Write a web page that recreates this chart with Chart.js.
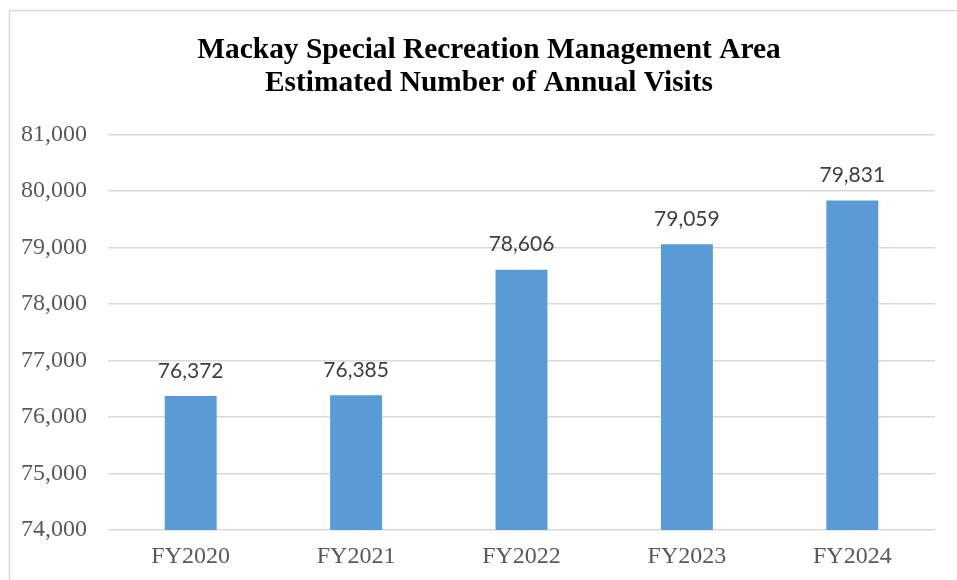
<!DOCTYPE html>
<html>
<head>
<meta charset="utf-8">
<script src="https://cdn.jsdelivr.net/npm/chart.js@4/dist/chart.umd.min.js"></script>
<style>
  html, body { margin: 0; padding: 0; background: #ffffff; }
  #wrap { width: 957px; height: 580px; position: relative; }
</style>
</head>
<body>
<div id="wrap"><canvas id="c" width="957" height="580"></canvas></div>
<script>
const titleLines = ["Mackay Special Recreation Management Area", "Estimated Number of Annual Visits"];
const categories = ["FY2020", "FY2021", "FY2022", "FY2023", "FY2024"];
const visits = [76372, 76385, 78606, 79059, 79831];
const yMin = 74000;
const yMax = 81000;
const yStep = 1000;

const fmt = v => Number(v).toLocaleString('en-US');

const frame = {
  id: 'frame',
  afterLayout(chart) {
    const tb = chart.titleBlock;
    if (tb) { tb.left = 21; tb.right = 957; tb.width = 936; }
  },
  beforeDraw(chart) {
    const ctx = chart.ctx;
    ctx.save();
    ctx.fillStyle = '#ffffff';
    ctx.fillRect(0, 0, chart.width, chart.height);
    ctx.strokeStyle = '#d9d9d9';
    ctx.lineWidth = 1.5;
    ctx.strokeRect(9.5, 10.5, 1200, 1200);
    ctx.restore();
  }
};

const valueLabels = {
  id: 'valueLabels',
  afterDatasetsDraw(chart) {
    const ctx = chart.ctx;
    const meta = chart.getDatasetMeta(0);
    ctx.save();
    ctx.font = '21px Lato, "Open Sans", sans-serif';
    ctx.fillStyle = '#404040';
    ctx.textAlign = 'center';
    ctx.textBaseline = 'middle';
    meta.data.forEach((bar, i) => {
      ctx.fillText(fmt(chart.data.datasets[0].data[i]), bar.x, bar.y - 25);
    });
    ctx.restore();
  }
};

new Chart(document.getElementById('c'), {
  type: 'bar',
  data: {
    labels: categories,
    datasets: [{
      data: visits,
      backgroundColor: '#5b9bd5',
      borderWidth: 0,
      categoryPercentage: 1.0,
      barPercentage: 0.314
    }]
  },
  options: {
    responsive: false,
    animation: false,
    devicePixelRatio: 1,
    layout: { padding: { left: 0, right: 22, top: 10, bottom: 0 } },
    plugins: {
      legend: { display: false },
      tooltip: { enabled: false },
      title: {
        display: true,
        text: titleLines,
        color: '#000000',
        font: { family: '"Liberation Serif", "Times New Roman", serif', size: 29.4, weight: 'bold', lineHeight: 1.13 },
        padding: { top: 24, bottom: 34 }
      }
    },
    scales: {
      x: {
        grid: { display: false, drawTicks: false },
        border: { display: false },
        ticks: {
          color: '#595959',
          font: { family: '"Liberation Serif", "Times New Roman", serif', size: 24 },
          padding: 12
        },
        afterFit(scale) { scale.height = 50; }
      },
      y: {
        min: yMin,
        max: yMax,
        ticks: {
          stepSize: yStep,
          color: '#595959',
          font: { family: '"Liberation Serif", "Times New Roman", serif', size: 24 },
          padding: 21,
          callback: v => fmt(v)
        },
        grid: { color: '#d9d9d9', lineWidth: 1.5, drawTicks: false },
        border: { display: false },
        afterFit(scale) { scale.width = 108; }
      }
    }
  },
  plugins: [frame, valueLabels]
});
</script>
</body>
</html>
